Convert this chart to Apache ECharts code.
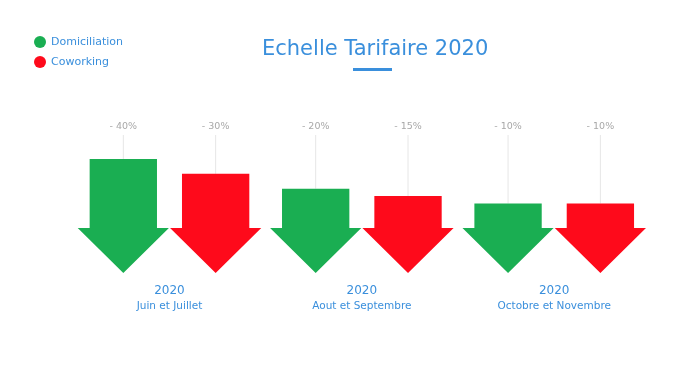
<!DOCTYPE html>
<html>
<head>
<meta charset="utf-8">
<script src="https://cdn.jsdelivr.net/npm/echarts@6/dist/echarts.min.js"></script>
<style>html,body{margin:0;padding:0;background:#fff;}#main{width:681px;height:366px;}</style>
</head>
<body>
<div id="main"></div>
<script>
const categories = ['Juin et Juillet', 'Aout et Septembre', 'Octobre et Novembre'];
const years = ['2020', '2020', '2020'];
const domiciliation = [40, 20, 10];
const coworking = [30, 15, 10];
const seriesNames = ['Domiciliation', 'Coworking'];

const Y_MIN = -37, Y_MAX = 63;
const GREEN = '#1aae52', RED = '#fe0a1b', BLUE = '#3a8fdc';

function makeRender(side, color) {
  return function (params, api) {
    const ci = api.value(0);
    const v = api.value(1);
    const band = api.size([1, 0])[0];
    const top = api.coord([ci, v]);
    const tip = api.coord([ci, Y_MIN]);
    const topMax = api.coord([ci, Y_MAX]);
    const cx = top[0] + side * band * 0.24;
    const headW = band * 0.474, shaftW = band * 0.35, headH = 45;
    const tipY = tip[1], baseY = tipY - headH;
    const labelY = topMax[1] + 2;
    return {
      type: 'group',
      children: [
        { type: 'line', shape: { x1: cx, y1: labelY + 8, x2: cx, y2: top[1] },
          style: { stroke: '#e6e6e6', lineWidth: 1 } },
        { type: 'polygon',
          shape: { points: [
            [cx - shaftW / 2, top[1]], [cx + shaftW / 2, top[1]], [cx + shaftW / 2, baseY],
            [cx + headW / 2, baseY], [cx, tipY], [cx - headW / 2, baseY], [cx - shaftW / 2, baseY]
          ] },
          style: { fill: color } },
        { type: 'text', x: cx, y: labelY,
          style: { text: '- ' + v + '%', fill: '#a8a8a8', fontSize: 9.5, fontFamily: 'DejaVu Sans',
                   align: 'center', verticalAlign: 'middle' } }
      ]
    };
  };
}

const chart = echarts.init(document.getElementById('main'));
chart.setOption({
  animation: false,
  backgroundColor: '#fff',
  title: {
    text: 'Echelle Tarifaire 2020',
    left: 257, top: 34,
    textStyle: { color: BLUE, fontSize: 21, fontWeight: 'normal', fontFamily: 'DejaVu Sans' }
  },
  graphic: [{ type: 'rect', shape: { x: 353, y: 68, width: 39, height: 3 }, style: { fill: BLUE } }],
  legend: {
    orient: 'vertical', left: 29, top: 31, itemWidth: 12, itemHeight: 12, itemGap: 8,
    icon: 'circle',
    data: seriesNames,
    textStyle: { color: BLUE, fontSize: 11, fontFamily: 'DejaVu Sans' }
  },
  grid: { left: 73.3, right: 30.6, top: 125, height: 148 },
  xAxis: {
    type: 'category', data: categories,
    axisLine: { show: false }, axisTick: { show: false }, splitLine: { show: false },
    axisLabel: {
      margin: 10.5, interval: 0,
      formatter: function (val, idx) { return '{y|' + years[idx] + '}\n{m|' + val + '}'; },
      rich: {
        y: { color: BLUE, fontSize: 12, lineHeight: 15, fontFamily: 'DejaVu Sans' },
        m: { color: BLUE, fontSize: 10.5, lineHeight: 16, fontFamily: 'DejaVu Sans' }
      }
    }
  },
  yAxis: { type: 'value', min: Y_MIN, max: Y_MAX, show: false },
  series: [
    { name: seriesNames[0], type: 'custom', itemStyle: { color: GREEN },
      renderItem: makeRender(-1, GREEN),
      data: domiciliation.map((v, i) => [i, v]) },
    { name: seriesNames[1], type: 'custom', itemStyle: { color: RED },
      renderItem: makeRender(1, RED),
      data: coworking.map((v, i) => [i, v]) }
  ]
});
</script>
</body>
</html>
